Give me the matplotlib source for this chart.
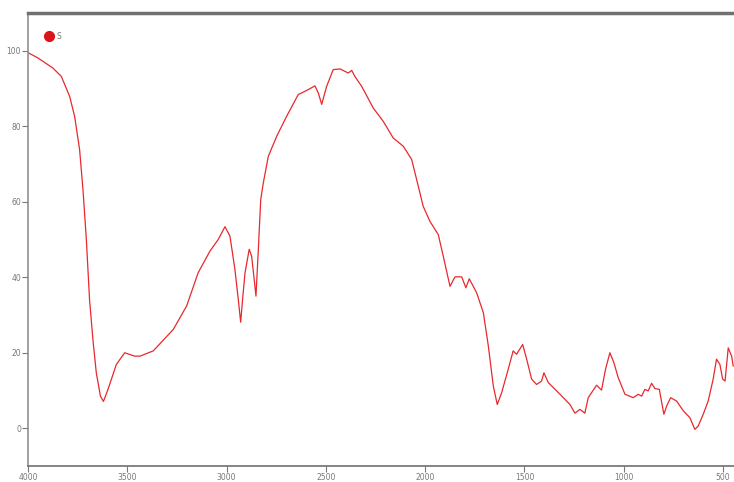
import numpy as np
import matplotlib.pyplot as plt
from matplotlib.lines import Line2D

# IR spectrum, sample S: wavenumber (cm-1) vs transmittance (%)
wavenumber = [4000, 3950, 3874, 3832, 3790, 3765, 3740, 3723, 3706, 3690,
              3673, 3656, 3635, 3620, 3597, 3555, 3513, 3463, 3436, 3412,
              3369, 3268, 3201, 3143, 3084, 3042, 3008, 2983, 2958, 2941,
              2929, 2918, 2907, 2886, 2874, 2862, 2852, 2840, 2828, 2815,
              2790, 2748, 2698, 2639, 2589, 2555, 2538, 2521, 2496, 2463,
              2429, 2387, 2370, 2354, 2320, 2261, 2211, 2161, 2110, 2068,
              2043, 2010, 1976, 1934, 1909, 1875, 1850, 1816, 1795, 1778,
              1741, 1707, 1682, 1657, 1637, 1615, 1582, 1557, 1540, 1509,
              1489, 1464, 1439, 1414, 1402, 1380, 1321, 1271, 1246, 1221,
              1196, 1179, 1137, 1112, 1092, 1070, 1050, 1028, 994, 952,
              927, 910, 894, 877, 860, 843, 821, 809, 798, 784,
              764, 734, 700, 667, 642, 625, 600, 575, 550, 533,
              516, 502, 490, 474, 457, 449]
transmittance = [99.5, 98.1, 95.4, 93.2, 87.9, 82.6, 73.8, 63.2, 50.0, 34.1,
                 23.5, 14.7, 8.5, 7.1, 10.3, 16.9, 20.0, 19.1, 19.1, 19.6,
                 20.5, 26.2, 32.4, 41.2, 46.9, 50.0, 53.4, 50.9, 42.1, 34.1,
                 28.1, 35.0, 41.2, 47.4, 45.6, 40.0, 35.0, 47.4, 60.6, 65.0,
                 72.0, 77.3, 82.6, 88.4, 89.7, 90.7, 88.8, 85.8, 90.6, 95.0,
                 95.2, 94.1, 94.8, 93.2, 90.6, 84.8, 81.3, 76.9, 74.7, 71.2,
                 65.9, 58.8, 54.8, 51.3, 45.6, 37.6, 40.1, 40.1, 37.2, 39.6,
                 35.9, 30.6, 21.8, 11.2, 6.3, 9.4, 15.6, 20.5, 19.6, 22.2,
                 18.3, 13.0, 11.6, 12.5, 14.7, 12.1, 9.0, 6.3, 4.0, 5.0,
                 4.0, 8.1, 11.4, 10.1, 15.6, 20.0, 17.4, 13.4, 9.0, 8.1,
                 9.0, 8.5, 10.3, 9.9, 11.9, 10.5, 10.3, 6.8, 3.7, 5.9,
                 8.1, 7.2, 4.6, 2.8, -0.3, 0.6, 3.7, 7.2, 13.0, 18.3,
                 16.9, 13.0, 12.5, 21.3, 19.1, 16.5]

x_ticks = [4000, 3500, 3000, 2500, 2000, 1500, 1000, 500]
y_ticks = [0, 20, 40, 60, 80, 100]

fig = plt.figure(figsize=(7.34, 4.82), dpi=100)
ax = fig.add_axes([0.0381, 0.0332, 0.9619, 0.9398])

ax.plot(wavenumber, transmittance, color='#e8282c', lw=0.9)

ax.set_xlim(4000, 445)
ax.set_ylim(-10, 110)
ax.set_xticks(x_ticks)
ax.set_yticks(y_ticks)
ax.tick_params(labelsize=5.5, colors='#777777', length=4, width=0.8, pad=1)

ax.spines['right'].set_visible(False)
ax.spines['top'].set_color('#707070')
ax.spines['top'].set_linewidth(2.5)
ax.spines['left'].set_color('#909090')
ax.spines['bottom'].set_color('#707070')
ax.spines['left'].set_linewidth(1.2)
ax.spines['bottom'].set_linewidth(1.2)

handle = Line2D([], [], marker='o', ls='none', color='#d9141a', markersize=7)
ax.legend([handle], ['S'], loc='center left', bbox_to_anchor=(0.015, 0.949),
          frameon=False, fontsize=5.5, labelcolor='#777777',
          handletextpad=0.0, borderaxespad=0)

fig.savefig('out.png', dpi=100)
